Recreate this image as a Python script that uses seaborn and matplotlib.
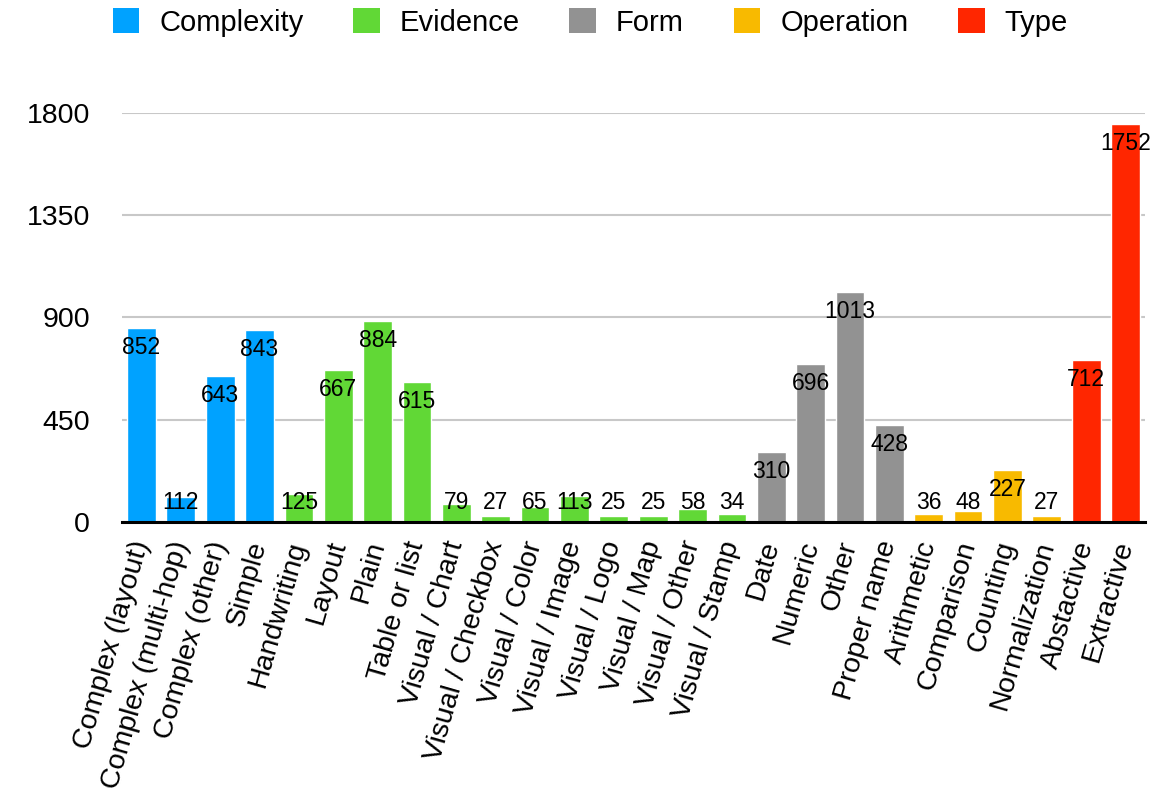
import matplotlib
matplotlib.use("Agg")
import matplotlib.pyplot as plt
from matplotlib.patches import Patch
import seaborn as sns
import pandas as pd

categories = [
    "Complex (layout)", "Complex (multi-hop)", "Complex (other)", "Simple",
    "Handwriting", "Layout", "Plain", "Table or list",
    "Visual / Chart", "Visual / Checkbox", "Visual / Color", "Visual / Image",
    "Visual / Logo", "Visual / Map", "Visual / Other", "Visual / Stamp",
    "Date", "Numeric", "Other", "Proper name",
    "Arithmetic", "Comparison", "Counting", "Normalization",
    "Abstactive", "Extractive",
]
groups = (
    ["Complexity"] * 4 + ["Evidence"] * 12 + ["Form"] * 4
    + ["Operation"] * 4 + ["Type"] * 2
)
counts = [
    852, 112, 643, 843,
    125, 667, 884, 615, 79, 27, 65, 113, 25, 25, 58, 34,
    310, 696, 1013, 428,
    36, 48, 227, 27,
    712, 1752,
]
group_names = ["Complexity", "Evidence", "Form", "Operation", "Type"]
group_colors = ["#00A2FF", "#61D836", "#929292", "#F8BA00", "#FF2600"]
y_ticks = [0, 450, 900, 1350, 1800]

df = pd.DataFrame({"category": categories, "group": groups, "count": counts})
palette = dict(zip(group_names, group_colors))

sns.set_theme(style="white")
plt.rcParams["font.family"] = ["Liberation Sans", "DejaVu Sans"]
plt.rcParams["text.color"] = "black"
plt.rcParams["xtick.color"] = "black"
plt.rcParams["ytick.color"] = "black"

fig = plt.figure(figsize=(11.71, 8.0), dpi=100)
ax = fig.add_axes([0.104, 0.3475, 0.874, 0.5115])

sns.barplot(
    data=df, x="category", y="count", hue="group", palette=palette,
    hue_order=group_names, dodge=False, width=0.73, saturation=1,
    legend=False, ax=ax, zorder=3,
)

ax.set_ylim(0, 1800)
ax.set_xlim(-0.5, len(categories) - 0.5)
ax.set_yticks(y_ticks)
ax.set_yticklabels([str(t) for t in y_ticks], fontsize=20.5, color="black")
ax.yaxis.grid(True, color="#C8C8C8", linewidth=1.5, zorder=0)
ax.set_axisbelow(True)
for side in ["top", "right", "left"]:
    ax.spines[side].set_visible(False)
ax.spines["bottom"].set_color("black")
ax.spines["bottom"].set_linewidth(2.2)
ax.spines["bottom"].set_zorder(5)
ax.tick_params(axis="y", length=0, pad=23)
ax.tick_params(axis="x", length=0, pad=14)
ax.set_xlabel("")
ax.set_ylabel("")

ax.set_xticks(range(len(categories)))
ax.set_xticklabels(categories, rotation=74, ha="right", va="center",
                   rotation_mode="anchor", fontsize=20.5, color="black")

# value labels just inside the top of each bar, kept clear of the baseline
for i, v in enumerate(counts):
    ax.text(i, max(v - 86, 84), str(v), ha="center", va="center",
            fontsize=16.5, color="black", zorder=6)

handles = [Patch(facecolor=c, edgecolor="none") for c in group_colors]
fig.legend(handles, group_names, loc="center", bbox_to_anchor=(0.504, 0.972),
           ncol=5, frameon=False, fontsize=21, handlelength=0.92,
           handleheight=0.95, handletextpad=0.68, columnspacing=1.7,
           labelcolor="black")

fig.savefig("out.png", dpi=100)
